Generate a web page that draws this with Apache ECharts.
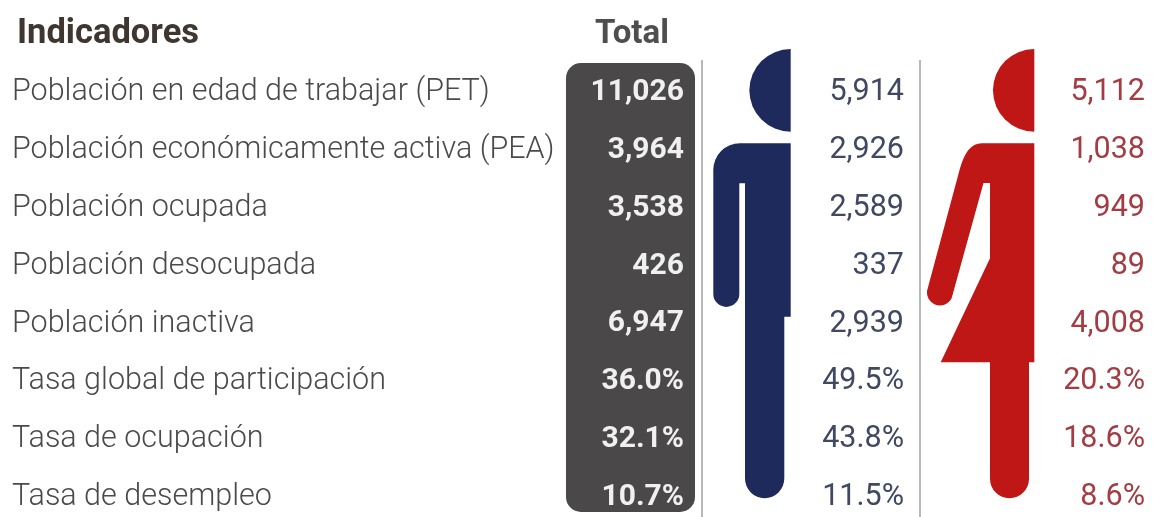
<!DOCTYPE html>
<html>
<head>
<meta charset="utf-8">
<style>
html, body { margin: 0; padding: 0; background: #fff; }
#main { width: 1153px; height: 517px; }
</style>
<script src="https://cdn.jsdelivr.net/npm/echarts@6/dist/echarts.min.js"></script>
</head>
<body>
<div id="main"></div>
<script>
const headerName = 'Indicadores';
const headerTotal = 'Total';
const indicators = [
	'Población en edad de trabajar (PET)',
	'Población económicamente activa (PEA)',
	'Población ocupada',
	'Población desocupada',
	'Población inactiva',
	'Tasa global de participación',
	'Tasa de ocupación',
	'Tasa de desempleo'
];
const totalValues = [11026, 3964, 3538, 426, 6947, 36.0, 32.1, 10.7];
const maleValues = [5914, 2926, 2589, 337, 2939, 49.5, 43.8, 11.5];
const femaleValues = [5112, 1038, 949, 89, 4008, 20.3, 18.6, 8.6];
const firstRateRow = 5;

const navy = '#1f2a5c';
const red = '#bf1616';
const font = 'Roboto';

// siluetas de hombre y mujer, en pixeles de la pagina
const figurePaths = [
	{ fill: navy, d: 'M790.7 49 A41.3 41.3 0 0 0 790.7 131.7 Z' },
	{ fill: navy, d: 'M790.7 143.3 L790.7 316.7 L784.3 316.7 L784.3 478.6 A19.65 19.65 0 0 1 745 478.6 L745 183.3 L739.3 183.3 L739.3 293.9 A13 13 0 0 1 713.3 293.9 L713.3 170 A26.7 26.7 0 0 1 740 143.3 Z' },
	{ fill: red, d: 'M1034.3 49 A41.3 41.3 0 0 0 1034.3 131.7 Z' },
	{ fill: red, d: 'M1034.3 143.3 L1034.3 362.3 L1029 362.3 L1029 478.8 A19.5 19.5 0 0 1 990 478.8 L990 362.3 L940.7 362.3 L990 258.3 L990 183 L983.5 183 L951.7 298 A13 13 0 0 1 927 291 L960 168.3 Q967 143.3 981.7 143.3 Z' }
];

// 5,914 para personas, 49.5% para tasas
function fmt(v, i) {
	return i >= firstRateRow ? v.toFixed(1) + '%' : v.toLocaleString('en-US');
}

function column(x, values, label) {
	return {
		type: 'scatter',
		symbolSize: 0,
		silent: true,
		z: 5,
		itemStyle: { opacity: 1 },
		data: indicators.map(name => [x, name]),
		label: Object.assign({
			show: true,
			position: 'inside',
			fontFamily: font,
			formatter: p => values ? fmt(values[p.dataIndex], p.dataIndex) : indicators[p.dataIndex]
		}, label)
	};
}

const chart = echarts.init(document.getElementById('main'), null, { renderer: 'canvas' });

chart.setOption({
	backgroundColor: '#ffffff',
	animation: false,
	grid: { left: 0, top: 63.5, width: 1153, height: 463, outerBoundsMode: 'none' },
	xAxis: { type: 'value', min: 0, max: 1153, show: false },
	yAxis: { type: 'category', inverse: true, data: indicators, show: false },
	graphic: [
		{ type: 'rect', shape: { x: 566, y: 63, width: 129, height: 449, r: 15 }, style: { fill: '#4a4849' } },
		{ type: 'rect', shape: { x: 701, y: 60, width: 2, height: 457 }, style: { fill: '#b8b8b8' } },
		{ type: 'rect', shape: { x: 919, y: 60, width: 2, height: 457 }, style: { fill: '#b8b8b8' } },
		{ type: 'text', x: 17, y: 34, style: { text: headerName, font: 'bold 34.5px ' + font, fill: '#3f3630', textVerticalAlign: 'middle' } },
		{ type: 'text', x: 632, y: 35, style: { text: headerTotal, font: 'bold 33px ' + font, fill: '#4f4d4d', textAlign: 'center', textVerticalAlign: 'middle' } }
	],
	series: [
		{
			type: 'custom',
			coordinateSystem: 'none',
			silent: true,
			z: 3,
			data: figurePaths.map((p, i) => [i]),
			renderItem: (params) => {
				const p = figurePaths[params.dataIndex];
				return { type: 'path', shape: { pathData: p.d }, style: { fill: p.fill } };
			}
		},
		column(12, null, { align: 'left', fontSize: 30.5, fontWeight: 300, color: '#4a4a4a' }),
		column(684, totalValues, { align: 'right', fontSize: 30, fontWeight: 'bold', color: '#f0f0f0' }),
		column(904, maleValues, { align: 'right', fontSize: 30.5, color: '#404862' }),
		column(1145, femaleValues, { align: 'right', fontSize: 30.5, color: '#a33c43' })
	]
});
</script>
</body>
</html>
